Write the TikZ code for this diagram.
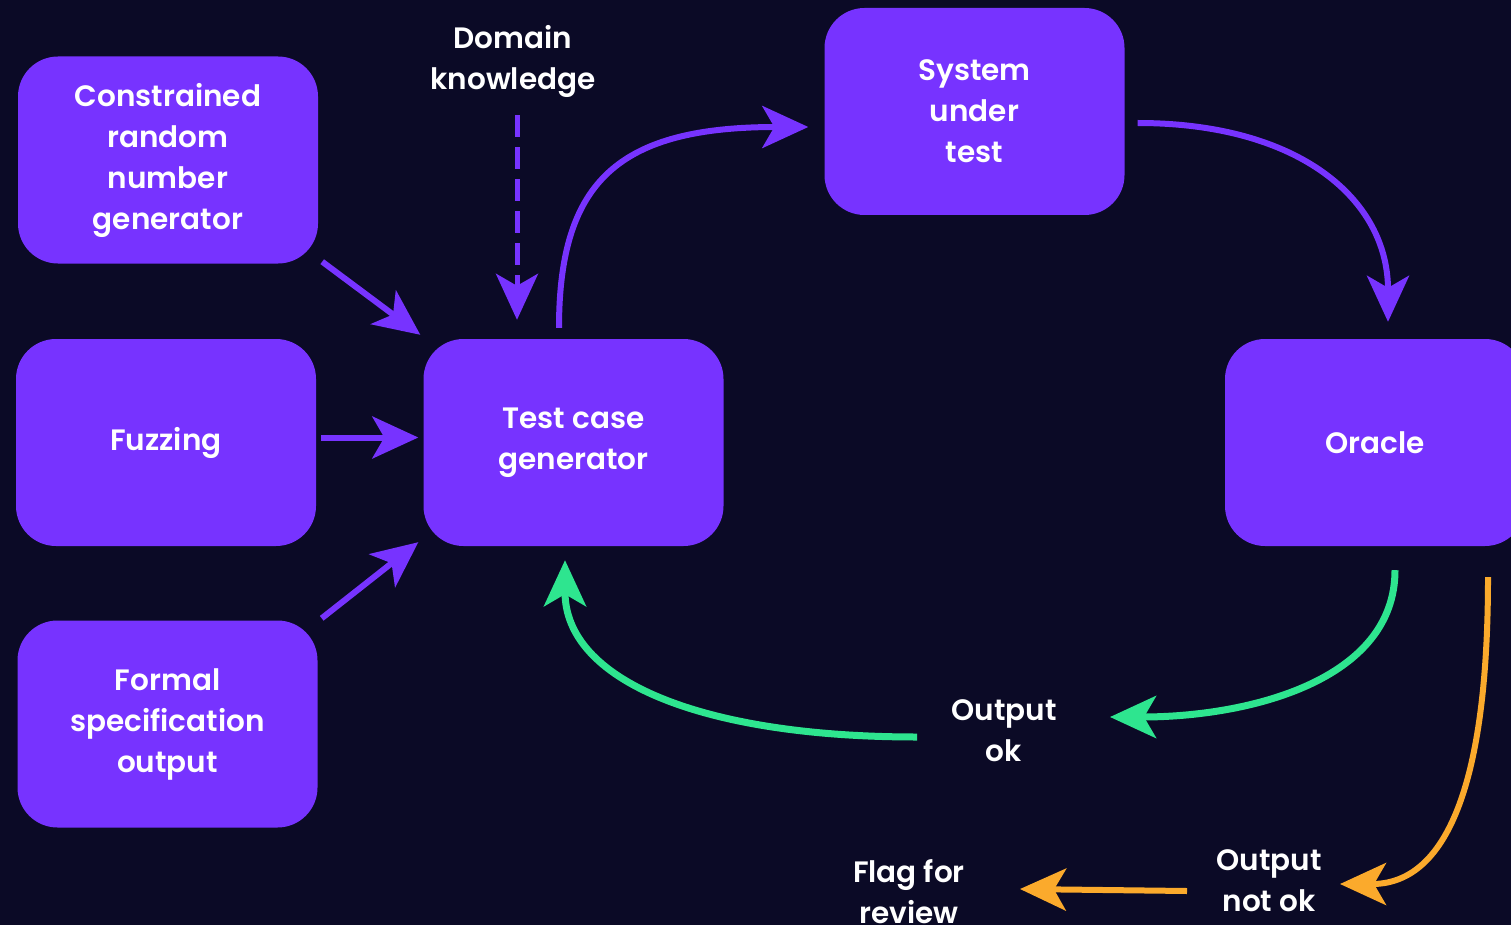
\documentclass[tikz,border=0pt]{standalone}
\usepackage{fontspec}
\setmainfont{Poppins}[BoldFont={Poppins SemiBold}]
\usetikzlibrary{arrows.meta,calc}
\definecolor{bg}{HTML}{0B0A26}
\definecolor{vio}{HTML}{7733FF}
\definecolor{grn}{HTML}{2EE58F}
\definecolor{org}{HTML}{FBAA2C}
\begin{document}
\begin{tikzpicture}[x=1pt,y=-1pt,
  box/.style={fill=vio, rounded corners=40pt, minimum width=300pt, minimum height=207pt,
    text=white, align=center, inner sep=0pt, font=\fontsize{29.5}{41}\selectfont\bfseries},
  lbl/.style={text=white, align=center, inner sep=0pt, font=\fontsize{29.5}{41}\selectfont\bfseries},
  tipv/.style={-{Stealth[length=46pt,width=42pt,inset=12pt]}},
  conn/.style={line width=6pt, tipv},
  vconn/.style={conn, draw=vio},
  gconn/.style={conn, draw=grn, line width=7pt},
  oconn/.style={conn, draw=org, line width=6pt},
  dconn/.style={vconn, line width=5pt, dash pattern=on 22pt off 10pt}]
\fill[bg] (0,0) rectangle (1511,925);
\useasboundingbox (0,0) rectangle (1511,925);
\clip (0,0) rectangle (1511,925);

\node[box] (c1) at (168,160) {Constrained\\random\\number\\generator};
\node[box] (fz) at (166,442.5) {Fuzzing};
\node[box] (fs) at (167.5,724) {Formal\\specification\\output};
\node[box] (tc) at (573.5,442.5) {Test case\\generator};
\node[box] (sut) at (974.5,111.5) {System\\under\\test};
\node[box] (or) at (1375,442.5) {Oracle};

\node[lbl] (dk) at (513,61) {Domain\\knowledge};
\node[lbl] (ok) at (1004,731) {Output\\ok};
\node[lbl] (nok) at (1269,881) {Output\\not ok};
\node[lbl] (flag) at (909,892) {Flag for\\review};

\draw[vconn] ($(c1.south east)+(4,-2)$) -- ($(tc.north west)+(-3,-4)$);
\draw[vconn] ($(fz.east)+(5,-5)$) -- ($(tc.west)+(-5,-5)$);
\draw[vconn] ($(fs.north east)+(4,-2)$) -- ($(tc.south west)+(-5,-4)$);
\draw[dconn] ($(dk.south)+(4,18)$) -- ($(tc.north)+(-56.5,-19)$);

\draw[vconn] ($(tc.north)+(-14.5,-11)$) .. controls (559,180) and (620,127) .. ($(sut.west)+(-16,15.5)$);
\draw[vconn] ($(sut.east)+(13,11.5)$) .. controls (1300,123) and (1388,200) .. ($(or.north)+(13,-17)$);

\draw[gconn] ($(or.south)+(20,24)$) .. controls (1395,680) and (1250,717) .. ($(ok.center)+(106,-14)$);
\draw[gconn] ($(ok.center)+(-87,6)$) .. controls (700,737) and (565,680) .. ($(tc.south)+(-8.5,14)$);

\draw[oconn] ($(or.south)+(113,31)$) .. controls (1488,800) and (1440,884) .. ($(nok.center)+(71,3)$);
\draw[oconn] ($(nok.center)+(-82,10)$) -- ($(flag.center)+(111,-3)$);
\end{tikzpicture}
\end{document}
